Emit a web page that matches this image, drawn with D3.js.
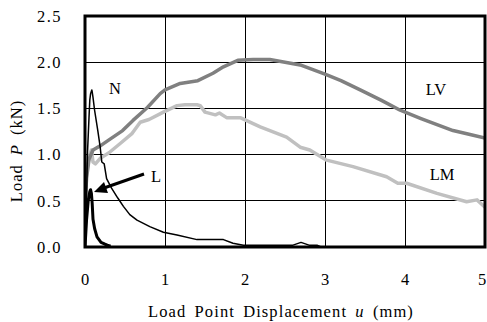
<!DOCTYPE html>
<html><head><meta charset="utf-8">
<script src="https://cdn.jsdelivr.net/npm/d3@7/dist/d3.min.js"></script>
<style>body{margin:0;background:#fff}svg{display:block}text{font-family:"Liberation Serif","Times New Roman",serif;fill:#000}</style>
</head><body><svg id="c" width="487" height="322"></svg>
<script>
const xTicks = [0,1,2,3,4,5];
const yTicks = [0.0,0.5,1.0,1.5,2.0,2.5];
const seriesNames = ["LV","LM","N","L"];
const lvU = [0.0,0.02,0.05,0.1,0.2,0.3,0.47,0.6,0.78,0.94,1.0,1.19,1.41,1.6,1.73,1.91,2.1,2.31,2.5,2.69,3.0,3.2,3.44,3.7,3.94,4.2,4.6,4.8,5.0];
const lvP = [0.45,0.75,0.95,1.05,1.1,1.16,1.26,1.37,1.51,1.66,1.70,1.77,1.80,1.88,1.95,2.02,2.03,2.03,2.00,1.97,1.87,1.80,1.70,1.59,1.48,1.39,1.26,1.22,1.18];
const lmU = [0.0,0.02,0.05,0.08,0.1,0.13,0.19,0.3,0.44,0.59,0.69,0.8,0.98,1.15,1.25,1.4,1.44,1.5,1.63,1.68,1.77,1.94,2.19,2.52,2.69,2.81,3.02,3.35,3.77,3.91,4.02,4.4,4.77,4.9,5.0];
const lmP = [0.55,0.8,0.97,1.05,0.92,0.9,0.96,1.02,1.12,1.23,1.35,1.38,1.46,1.53,1.54,1.54,1.53,1.46,1.43,1.45,1.40,1.40,1.30,1.19,1.08,1.05,0.94,0.87,0.76,0.69,0.69,0.58,0.49,0.51,0.43];
const nU = [0.0,0.02,0.03,0.05,0.06,0.07,0.085,0.09,0.1,0.12,0.16,0.19,0.21,0.24,0.27,0.33,0.41,0.48,0.56,0.65,0.81,0.98,1.15,1.4,1.73,1.85,1.98,2.3,2.6,2.7,2.8,2.9,2.95];
const nP = [0.0,0.5,1.0,1.4,1.59,1.66,1.70,1.68,1.62,1.48,1.26,1.08,0.92,0.9,0.74,0.64,0.53,0.44,0.35,0.29,0.22,0.16,0.13,0.08,0.08,0.04,0.02,0.02,0.02,0.05,0.02,0.02,0.0];
const lU = [0.0,0.02,0.04,0.06,0.07,0.08,0.09,0.1,0.12,0.15,0.2,0.25,0.28,0.32];
const lP = [0.0,0.3,0.5,0.6,0.62,0.58,0.47,0.3,0.2,0.11,0.05,0.03,0.02,0.01];

const svg = d3.select("#c");
const L = 85, R = 485, T = 16, B = 247;
const x = d3.scaleLinear().domain([0,5]).range([L,R]);
const y = d3.scaleLinear().domain([0,2.5]).range([B,T]);

// grid
svg.append("g").selectAll("line").data(xTicks.slice(1,-1)).join("line")
  .attr("x1",d=>x(d)).attr("x2",d=>x(d)).attr("y1",T).attr("y2",B)
  .attr("stroke","#000").attr("stroke-width",1).attr("shape-rendering","crispEdges");
svg.append("g").selectAll("line").data(yTicks.slice(1,-1)).join("line")
  .attr("y1",d=>y(d)).attr("y2",d=>y(d)).attr("x1",L).attr("x2",R)
  .attr("stroke","#000").attr("stroke-width",1).attr("shape-rendering","crispEdges");

svg.append("defs").append("clipPath").attr("id","clip").append("rect")
  .attr("x",L).attr("y",T).attr("width",R-L).attr("height",B-T);

const line = d3.line().x(d=>x(d[0])).y(d=>y(d[1]));
const zip = (a,b)=>a.map((v,i)=>[v,b[i]]);
const g = svg.append("g").attr("clip-path","url(#clip)");
g.append("path").datum(zip(lmU,lmP)).attr("d",line).attr("fill","none").attr("stroke","#c0c0c0").attr("stroke-width",3.5).attr("stroke-linejoin","round");
g.append("path").datum(zip(lvU,lvP)).attr("d",line).attr("fill","none").attr("stroke","#808080").attr("stroke-width",3.5).attr("stroke-linejoin","round");
g.append("path").datum(zip(nU,nP)).attr("d",line).attr("fill","none").attr("stroke","#000").attr("stroke-width",1.5).attr("stroke-linejoin","round");
g.append("path").datum(zip(lU,lP)).attr("d",line).attr("fill","none").attr("stroke","#000").attr("stroke-width",3).attr("stroke-linejoin","round");

// border
svg.append("rect").attr("x",L).attr("y",T).attr("width",R-L).attr("height",B-T)
  .attr("fill","none").attr("stroke","#000").attr("stroke-width",3);

// axes labels
svg.append("g").selectAll("text").data(yTicks).join("text")
  .attr("x",62).attr("y",d=>y(d)).attr("dy","0.35em").attr("text-anchor","end")
  .attr("font-size",16.5).attr("letter-spacing","1.5px").text(d=>d.toFixed(1));
svg.append("g").selectAll("text").data(xTicks).join("text")
  .attr("x",d=>Math.min(x(d),482)).attr("y",279).attr("dy","0.35em").attr("text-anchor","middle")
  .attr("font-size",16.5).text(d=>d);

const xt = svg.append("text").attr("x",281).attr("y",311).attr("dy","0.35em").attr("text-anchor","middle").attr("font-size",16.5).attr("letter-spacing","1.1px").attr("word-spacing","3px");
xt.append("tspan").text("Load Point Displacement  ");
xt.append("tspan").attr("font-style","italic").text("u");
xt.append("tspan").text("  (mm)");
const yt = svg.append("text").attr("transform","translate(16,151) rotate(-90)").attr("dy","0.35em").attr("text-anchor","middle").attr("font-size",16.5).attr("letter-spacing","1px").attr("word-spacing","4px");
yt.append("tspan").text("Load  ");
yt.append("tspan").attr("font-style","italic").text("P");
yt.append("tspan").text("  (kN)");

// series labels
const labelPos = {N:[115,88],LV:[436,89],LM:[442,174],L:[156,176]};
svg.append("g").selectAll("text").data(seriesNames).join("text")
  .attr("x",d=>labelPos[d][0]).attr("y",d=>labelPos[d][1]).attr("dy","0.35em").attr("text-anchor","middle")
  .attr("font-size",16.5).text(d=>d);

// arrow for L
svg.append("line").attr("x1",144).attr("y1",174).attr("x2",104).attr("y2",188).attr("stroke","#000").attr("stroke-width",3);
svg.append("path").attr("d","M94,192 L104,182 L108,193 Z").attr("fill","#000");
</script></body></html>
